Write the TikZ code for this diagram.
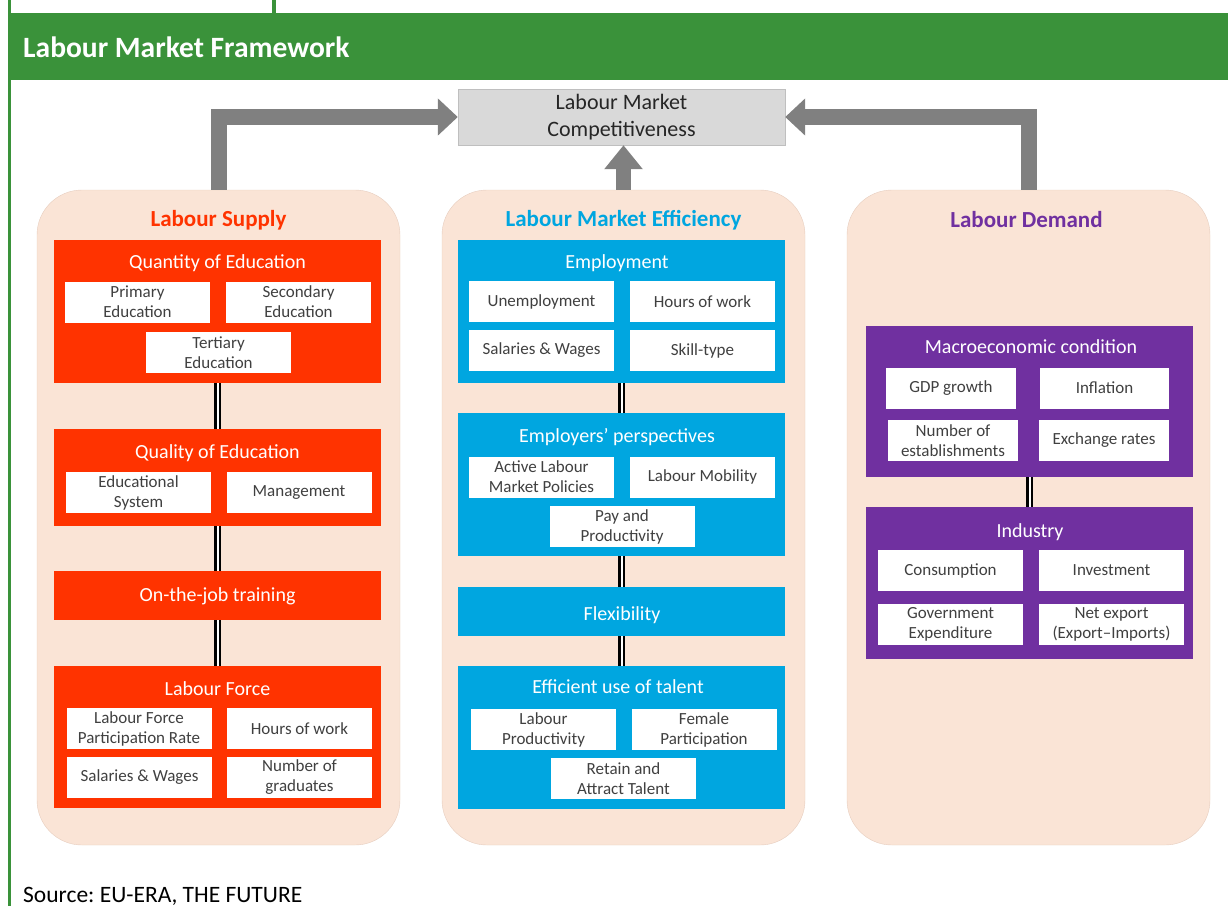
\documentclass[tikz,border=0pt]{standalone}
\usepackage{fontspec}
\setmainfont{Carlito}
\usetikzlibrary{arrows.meta, positioning}
\frenchspacing

\definecolor{headgreen}{HTML}{3A923A}
\definecolor{supplyred}{HTML}{FF3300}
\definecolor{effblue}{HTML}{00A6E0}
\definecolor{demandpurple}{HTML}{7030A0}
\definecolor{peach}{HTML}{FAE4D6}
\definecolor{peachline}{HTML}{E6CDBE}
\definecolor{arrowgray}{HTML}{808080}
\definecolor{itemtext}{HTML}{404040}

\tikzset{
  panel/.style={draw=peachline, fill=peach, rounded corners=45pt,
    minimum width=363pt, minimum height=655pt, inner sep=0pt},
  paneltitle/.style={anchor=base, font=\fontsize{23}{27}\selectfont\bfseries},
  group/.style={minimum width=327pt, inner sep=0pt, anchor=north},
  grouptitle/.style={anchor=base, text=white, font=\fontsize{20}{24}\selectfont},
  item/.style={fill=white, text=itemtext, minimum width=145pt, minimum height=41pt,
    inner sep=0pt, align=center, font=\fontsize{17}{20}\selectfont},
  link/.style={draw=black, line width=2.5pt, double=white, double distance=2pt},
  bigarrow/.style={draw=arrowgray, line width=16pt, -{Triangle[width=36pt, length=20pt]}}
}

\begin{document}
\begin{tikzpicture}[x=1pt, y=-1pt]
\useasboundingbox (0,0) rectangle (1228,906);

% header band
\fill[headgreen] (8,0) rectangle (11,906);
\fill[headgreen] (272,0) rectangle (276,13);
\fill[headgreen] (8,13) rectangle (1228,80);
\node[anchor=base west, inner sep=0pt, text=white, font=\fontsize{29.5}{34}\selectfont\bfseries] (title) at (23,57) {Labour Market Framework};

\node[draw=black!25, fill=black!15, minimum width=327pt, minimum height=56pt, align=center,
  text=black!85, font=\fontsize{22}{27}\selectfont] (comp) at (621.5,117) {Labour Market\\Competitiveness};

% the three pillars
\node[panel] (supply) at (218.5,517.5) {};
\node[panel] (efficiency) at (623.5,517.5) {};
\node[panel] (demand) at (1028.5,517.5) {};

\draw[bigarrow] (supply.north) |- (comp.west);
\draw[bigarrow] (demand.north) |- (comp.east);
\draw[bigarrow, line width=15pt, -{Triangle[width=37pt, length=24pt]}] (efficiency.north) -- (efficiency.north |- comp.south);

\node[paneltitle, text=supplyred] (supplyT) at (218.5,226) {Labour Supply};
\node[paneltitle, text=effblue] (efficiencyT) at (623.5,226) {Labour Market Efficiency};
\node[paneltitle, text=demandpurple] (demandT) at (1026.5,227) {Labour Demand};

% labour supply
\node[group, fill=supplyred, minimum height=143pt] (qty) at (217.5,240) {};
\node[group, fill=supplyred, minimum height=97pt] (qual) at (217.5,429) {};
\node[group, fill=supplyred, minimum height=49pt] (ojt) at (217.5,571) {};
\node[group, fill=supplyred, minimum height=142pt] (force) at (217.5,666) {};
\draw[link] (qty.south) -- (qual.north);
\draw[link] (qual.south) -- (ojt.north);
\draw[link] (ojt.south) -- (force.north);

\node[grouptitle] (qtyT) at (217.5,268) {Quantity of Education};
\node[item] (primary) at (137.5,302) {Primary\\Education};
\node[item] (secondary) at (298.5,302) {Secondary\\Education};
\node[item] (tertiary) at (218.5,352.5) {Tertiary\\Education};

\node[grouptitle] (qualT) at (217.5,458) {Quality of Education};
\node[item] (system) at (138.5,492.5) {Educational\\System};
\node[item] (mgmt) at (299,492.5) {Management};

\node[grouptitle] (ojtT) at (217.5,601) {On-the-job training};

\node[grouptitle] (forceT) at (217.5,695) {Labour Force};
\node[item] (lfpr) at (139,728.5) {Labour Force\\Participation Rate};
\node[item] (hoursS) at (299.5,728.5) {Hours of work};
\node[item] (wagesS) at (139.5,777.5) {Salaries \& Wages};
\node[item] (grads) at (299.5,777.5) {Number of\\graduates};

% labour market efficiency
\node[group, fill=effblue, minimum height=143pt] (employ) at (621.5,240) {};
\node[group, fill=effblue, minimum height=143pt] (persp) at (621.5,413) {};
\node[group, fill=effblue, minimum height=49pt] (flex) at (621.5,587) {};
\node[group, fill=effblue, minimum height=143pt] (talent) at (621.5,666) {};
\draw[link] (employ.south) -- (persp.north);
\draw[link] (persp.south) -- (flex.north);
\draw[link] (flex.south) -- (talent.north);

\node[grouptitle] (employT) at (617,268) {Employment};
\node[item] (unemp) at (541.5,301.5) {Unemployment};
\node[item] (hoursE) at (702.5,301.5) {Hours of work};
\node[item] (wagesE) at (541.5,350.5) {Salaries \& Wages};
\node[item] (skill) at (702.5,350.5) {Skill-type};

\node[grouptitle] (perspT) at (617,442) {Employers’ perspectives};
\node[item] (almp) at (541.5,477) {Active Labour\\Market Policies};
\node[item] (mobility) at (702.5,477) {Labour Mobility};
\node[item] (pay) at (622,526.5) {Pay and\\Productivity};

\node[grouptitle] (flexT) at (622,620) {Flexibility};

\node[grouptitle] (talentT) at (618,693) {Efficient use of talent};
\node[item] (prod) at (543.5,729.5) {Labour\\Productivity};
\node[item] (female) at (704,729.5) {Female\\Participation};
\node[item] (retain) at (623.5,778.5) {Retain and\\Attract Talent};

% labour demand
\node[group, fill=demandpurple, minimum height=151pt] (macro) at (1029.5,326) {};
\node[group, fill=demandpurple, minimum height=152pt] (industry) at (1029.5,507) {};
\draw[link] (macro.south) -- (industry.north);

\node[grouptitle] (macroT) at (1031,353) {Macroeconomic condition};
\node[item, minimum width=130pt] (gdp) at (951,388) {GDP growth};
\node[item, minimum width=129pt] (inflation) at (1104.5,388) {Inflation};
\node[item, minimum width=130pt] (estab) at (953,440.5) {Number of\\establishments};
\node[item, minimum width=130pt] (exchange) at (1104,440.5) {Exchange rates};

\node[grouptitle] (industryT) at (1030,537) {Industry};
\node[item] (consumption) at (950.5,570.5) {Consumption};
\node[item] (investment) at (1111.5,570.5) {Investment};
\node[item] (govexp) at (950.5,624) {Government\\Expenditure};
\node[item] (netexport) at (1111.5,624) {Net export\\(Export–Imports)};

\node[anchor=base west, inner sep=0pt, font=\fontsize{23.5}{27}\selectfont] (source) at (23,902) {Source: EU-ERA, THE FUTURE};
\end{tikzpicture}
\end{document}
